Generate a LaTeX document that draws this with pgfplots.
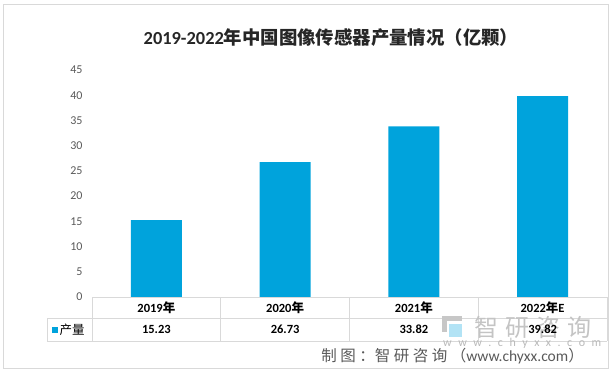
\documentclass[border=0pt]{standalone}
\usepackage{pgfplots}
\pgfplotsset{compat=1.18}
\usepackage{fontspec}
\setmainfont{Carlito}
\newfontfamily\cjk{Noto Sans CJK SC}
\definecolor{barblue}{RGB}{0,163,220}
\definecolor{gridgrey}{RGB}{217,217,217}
\definecolor{txtgrey}{RGB}{89,89,89}
\definecolor{wmgrey}{RGB}{185,185,185}
\begin{document}
\begin{tikzpicture}[x=1bp,y=1bp]
\path[use as bounding box] (0,0) rectangle (613,375);
\draw[gridgrey, line width=1bp] (3,7) rectangle (608,370);
\begin{axis}[
  at={(92bp,78bp)}, anchor=south west,
  scale only axis, width=515bp, height=227bp,
  xmin=0.5, xmax=4.5, ymin=0, ymax=45,
  ytick={0,5,...,45},
  xtick=\empty,
  axis line style={draw=none},
  major tick length=0pt,
  yticklabel style={font=\fontsize{12bp}{14bp}\selectfont, text=txtgrey, xshift=-6bp},
  /pgf/number format/assume math mode=true,
  clip=false,
]
\addplot[ybar, bar width=51bp, fill=barblue, draw=none] coordinates {(1,15.23) (2,26.73) (3,33.82) (4,39.82)};
\draw[gridgrey, line width=1bp] (axis cs:0.5,0) -- (axis cs:4.5,0);
\end{axis}
% table grid
\begin{scope}[gridgrey, line width=1bp]
\draw (47,57) -- (607,57);
\draw (47,34) -- (607,34);
\draw (47,57) -- (47,34);
\foreach \x in {92,220.75,349.5,478.25,607} \draw (\x,78) -- (\x,34);
\end{scope}
% watermark (behind table text)
\begin{scope}
\fill[wmgrey!80] (442,54) rectangle (462,59);
\fill[wmgrey!80] (442,43) rectangle (447,54);
\fill[barblue!30] (449,38) rectangle (462,51);
\node[anchor=west, font=\cjk\fontsize{24bp}{26bp}\selectfont, text=wmgrey!85, inner sep=0pt] at (474,47.5) {智\hspace{7bp}研\hspace{7bp}咨\hspace{7bp}询};
\node[anchor=west, font=\fontsize{12bp}{14bp}\selectfont, text=wmgrey, inner sep=0pt] at (443,32) {w\hspace{6.5bp}w\hspace{6.5bp}w\hspace{6.5bp}.\hspace{6.5bp}c\hspace{6.5bp}h\hspace{6.5bp}y\hspace{6.5bp}x\hspace{6.5bp}x\hspace{6.5bp}.\hspace{6.5bp}c\hspace{6.5bp}o\hspace{6.5bp}m};
\end{scope}
% header row and value row
\foreach \x/\lab/\val in {156.4/2019/15.23, 285.1/2020/26.73, 413.9/2021/33.82, 542.6/2022/39.82}{
  \node[font=\bfseries\fontsize{12.5bp}{14bp}\selectfont] at (\x,67) {\lab{\cjk 年}\ifnum\lab=2022 E\fi};
  \node[font=\bfseries\fontsize{12.5bp}{14bp}\selectfont] at (\x,45.5) {\val};
}
\fill[barblue] (52,42.5) rectangle (58,48.5);
\node[anchor=west, font=\cjk\fontsize{12.5bp}{14bp}\selectfont, inner sep=0pt] at (59.5,45.5) {产量};
% source
\node[anchor=east, font=\fontsize{15.5bp}{18bp}\selectfont, text=txtgrey, inner sep=0pt] at (584,19) {{\cjk 制\hspace{3.5bp}图\hspace{3.5bp}：智\hspace{3.5bp}研\hspace{3.5bp}咨\hspace{3.5bp}询\hspace{3.5bp}（}www.chyxx.com{\cjk ）}};
% title
\node[font=\bfseries\fontsize{18.4bp}{21bp}\selectfont, text=black!85] at (331,337) {2019-2022{\cjk 年中国图像传感器产量情况（亿颗）}};
\end{tikzpicture}
\end{document}
